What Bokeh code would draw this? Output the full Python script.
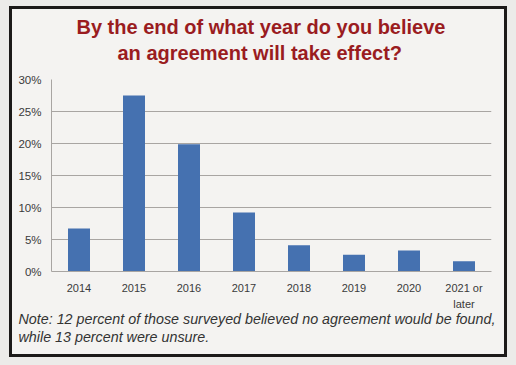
from bokeh.plotting import figure
from bokeh.models import (Title, NumeralTickFormatter, FixedTicker, ColumnDataSource,
                          CategoricalAxis, CustomJSTickFormatter)
from bokeh.embed import file_html
from bokeh.resources import INLINE

categories = ["2014", "2015", "2016", "2017", "2018", "2019", "2020", "2021 or later"]
shares = [0.067, 0.275, 0.199, 0.092, 0.041, 0.026, 0.033, 0.016]
y_ticks = [0, 0.05, 0.10, 0.15, 0.20, 0.25, 0.30]
title_lines = ["By the end of what year do you believe", "an agreement will take effect?"]
note_lines = ["Note: 12 percent of those surveyed believed no agreement would be found,",
              "while 13 percent were unsure."]

W, H = 516, 365
INNER = "#f4f3f1"
OUTER = "#ecebe9"
EDGE = "#1c1a19"
GRID = "#a8a5a2"
TXT = "#3a3a3a"

p = figure(x_range=categories, y_range=(0, 0.30), width=W, height=H,
           output_backend="svg", toolbar_location=None,
           min_border_left=51, min_border_right=25, min_border_top=79, min_border_bottom=94)
p.background_fill_color = INNER
p.border_fill_alpha = 0
p.outline_line_color = None
# framed panel drawn by the page background behind the (transparent) canvas border
p.styles = {
    "background": (f"linear-gradient({INNER}, {INNER}) 12px 9px / 492px 345px no-repeat, "
                   f"linear-gradient({EDGE}, {EDGE}) 9px 6px / 498px 351px no-repeat, {OUTER}")
}

src = ColumnDataSource(dict(cat=categories, val=shares))
p.vbar(x="cat", top="val", width=0.4, source=src, fill_color="#4571b0", line_color=None)

p.xgrid.grid_line_color = None
p.ygrid.grid_line_color = GRID
p.ygrid.grid_line_width = 1

p.yaxis.ticker = FixedTicker(ticks=y_ticks)
p.yaxis.formatter = NumeralTickFormatter(format="0%")
p.yaxis.axis_line_color = GRID
p.yaxis.major_tick_line_color = None
p.yaxis.major_tick_out = 0
p.yaxis.major_tick_in = 0
p.yaxis.minor_tick_line_color = None
p.yaxis.major_label_standoff = 10
p.yaxis.major_label_text_font = "Liberation Sans"
p.yaxis.major_label_text_font_size = "11.5px"
p.yaxis.major_label_text_color = TXT

# first line of each category label
p.xaxis.formatter = CustomJSTickFormatter(
    code="const i = tick.indexOf(' or '); return i < 0 ? tick : tick.slice(0, i + 3);")
p.xaxis.axis_line_color = GRID
p.xaxis.major_tick_line_color = None
p.xaxis.major_tick_out = 0
p.xaxis.major_label_standoff = 10
p.xaxis.major_label_text_font = "Liberation Sans"
p.xaxis.major_label_text_font_size = "11px"
p.xaxis.major_label_text_color = TXT

# second line of the wrapped category label
ax2 = CategoricalAxis(
    formatter=CustomJSTickFormatter(
        code="const i = tick.indexOf(' or '); return i < 0 ? '' : tick.slice(i + 4);"),
    axis_line_color=None, major_tick_line_color=None, major_tick_out=0, major_tick_in=0,
    major_label_standoff=1, major_label_text_font="Liberation Sans",
    major_label_text_font_size="11px", major_label_text_color=TXT)
p.add_layout(ax2, "below")

for t, so in zip(note_lines, [-8, 8]):
    p.add_layout(Title(text=t, align="left", offset=-33, standoff=so,
                       text_font="Liberation Sans", text_font_style="italic",
                       text_font_size="14.3px", text_color="#333333"), "below")

# title: second line (closest to the plot) first, then the first line above it
for t, off, so, va in zip(reversed(title_lines), [66, 25], [28, -21], ["top", "bottom"]):
    p.add_layout(Title(text=t, align="left", offset=off, standoff=so, vertical_align=va,
                       text_font="Liberation Sans", text_font_style="bold",
                       text_font_size="20px", text_color="#9a1c1f"), "above")

open("out.html", "w").write(file_html(p, INLINE))
